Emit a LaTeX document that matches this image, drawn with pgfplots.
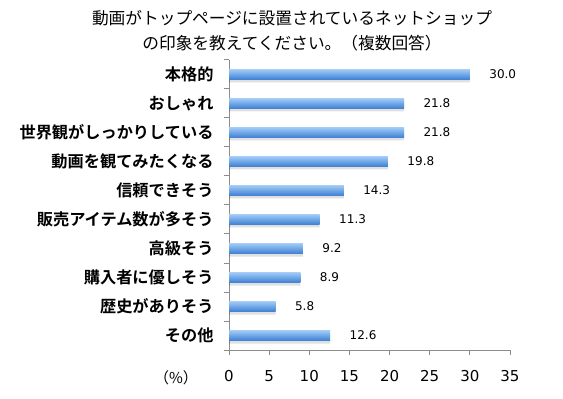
\documentclass[border=0pt]{standalone}
\usepackage{pgfplots}
\pgfplotsset{compat=1.18}
\usepackage{fontspec}
\setmainfont{Noto Sans CJK JP}[BoldFont={Noto Sans CJK JP Bold}]
\newfontfamily\numfont{DejaVu Sans}
\definecolor{bartop}{RGB}{160,202,246}
\definecolor{barmid}{RGB}{88,152,230}
\definecolor{barbot}{RGB}{62,128,212}
\definecolor{axgray}{RGB}{140,140,140}
\pgfplotsset{
  mybar/.style={draw=none, top color=bartop, middle color=barmid, bottom color=barbot, bar shift=0pt, forget plot,
    nodes near coords,
    nodes near coords style={font=\numfont\fontsize{12bp}{12bp}\selectfont, anchor=west, xshift=16bp, /pgf/number format/fixed, /pgf/number format/fixed zerofill, /pgf/number format/precision=1, text=black}},
}
\begin{document}
\begin{tikzpicture}
\useasboundingbox (0,0) rectangle (563bp,399bp);
\node[font=\fontsize{16.7bp}{25bp}\selectfont, align=center] at (292bp,368.5bp) {動画がトップページに設置されているネットショップ\\の印象を教えてください。（複数回答）};
\node[font=\fontsize{15bp}{15bp}\selectfont] at (176bp,21bp) {（\%）};
\begin{axis}[
  at={(229bp,49bp)}, anchor=south west,
  scale only axis, width=281bp, height=290bp,
  xbar, bar width=10bp,
  xmin=0, xmax=35, ymin=-0.5, ymax=9.5, y dir=reverse,
  axis x line*=bottom, axis y line*=left,
  axis line style={draw=axgray, line width=1bp, -},
  xtick={0,5,...,35},
  ytick={-0.5,0.5,...,9.5}, yticklabels={},
  tick align=outside, major tick length=5bp,
  tick style={draw=axgray, line width=1bp},
  extra y ticks={0,1,2,3,4,5,6,7,8,9},
  extra y tick labels={本格的,おしゃれ,世界観がしっかりしている,動画を観てみたくなる,信頼できそう,販売アイテム数が多そう,高級そう,購入者に優しそう,歴史がありそう,その他},
  extra y tick style={major tick length=0pt, tick style={draw=none}, yticklabel style={font=\fontsize{16.2bp}{16bp}\selectfont\bfseries, xshift=-12bp}},
  xticklabel style={font=\numfont\fontsize{15bp}{15bp}\selectfont, yshift=-12bp},
  /pgf/number format/assume math mode=true,
  clip=false,
]
\addplot[draw=none, fill=black, opacity=0.12, bar shift=-3bp, forget plot] coordinates {
  (30.0,0) (21.8,1) (21.8,2) (19.8,3) (14.3,4) (11.3,5) (9.2,6) (8.9,7) (5.8,8) (12.6,9)};
\addplot[mybar] coordinates {(30.0,0)};
\addplot[mybar] coordinates {(21.8,1)};
\addplot[mybar] coordinates {(21.8,2)};
\addplot[mybar] coordinates {(19.8,3)};
\addplot[mybar] coordinates {(14.3,4)};
\addplot[mybar] coordinates {(11.3,5)};
\addplot[mybar] coordinates {(9.2,6)};
\addplot[mybar] coordinates {(8.9,7)};
\addplot[mybar] coordinates {(5.8,8)};
\addplot[mybar] coordinates {(12.6,9)};
\end{axis}
\end{tikzpicture}
\end{document}
